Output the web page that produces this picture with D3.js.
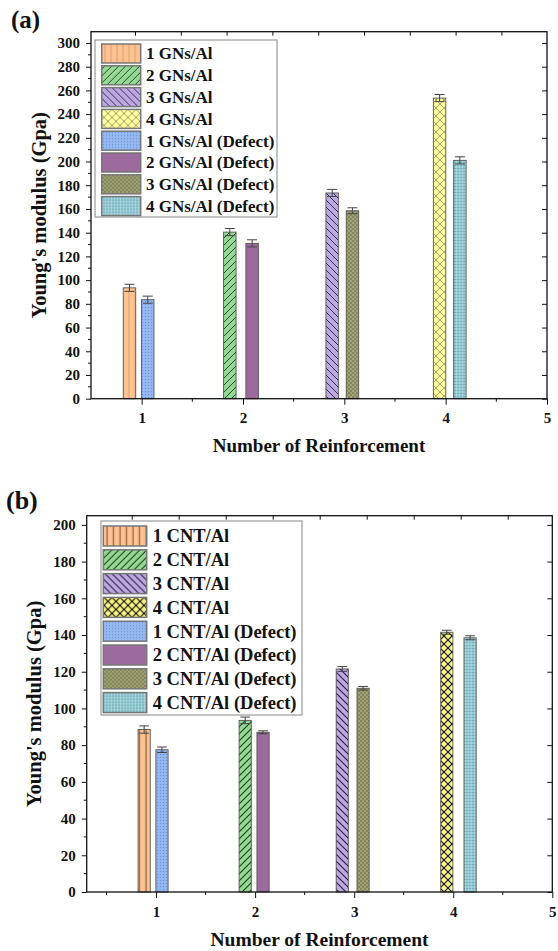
<!DOCTYPE html>
<html>
<head>
<meta charset="utf-8">
<script src="https://cdn.jsdelivr.net/npm/d3@7"></script>
<style>
  html, body { margin: 0; padding: 0; background: #fff; }
  svg { display: block; }
  text { font-family: "Liberation Serif", "Times New Roman", serif; font-weight: bold; fill: #111; }
</style>
</head>
<body>
<svg id="chart" width="558" height="951"></svg>
<script>
// ---- data ----
const categories = [1, 2, 3, 4];
const xTickValues = [1, 2, 3, 4, 5];

// (a) graphene nanosheets in Al
const gnsLabels = ["1 GNs/Al", "2 GNs/Al", "3 GNs/Al", "4 GNs/Al",
  "1 GNs/Al (Defect)", "2 GNs/Al (Defect)", "3 GNs/Al (Defect)", "4 GNs/Al (Defect)"];
const gnsPristine = [93.5, 140.5, 173.5, 253.5];
const gnsDefect = [83.5, 131, 158.5, 201];
const gnsPristineErr = [3, 3, 3, 3];
const gnsDefectErr = [3, 3, 2.5, 3];
const gnsPristineX = [0.88, 1.87, 2.88, 3.94];
const gnsDefectX = [1.06, 2.09, 3.08, 4.14];

// (b) carbon nanotubes in Al
const cntLabels = ["1 CNT/Al", "2 CNT/Al", "3 CNT/Al", "4 CNT/Al",
  "1 CNT/Al (Defect)", "2 CNT/Al (Defect)", "3 CNT/Al (Defect)", "4 CNT/Al (Defect)"];
const cntPristine = [88.5, 93.5, 121.5, 141.5];
const cntDefect = [77.5, 87, 111, 138.5];
const cntPristineErr = [2, 1.8, 1.3, 1.1];
const cntDefectErr = [1.5, 0.8, 1, 1.1];
const cntPristineX = [0.88, 1.9, 2.88, 3.935];
const cntDefectX = [1.06, 2.08, 3.09, 4.17];

const barWidth = 0.123; // in x-axis units

const svg = d3.select("#chart");
const defs = svg.append("defs");

// ---- fill patterns ----
function pattern(id, size, bg, draw) {
  const p = defs.append("pattern").attr("id", id).attr("patternUnits", "userSpaceOnUse")
    .attr("width", size).attr("height", size);
  p.append("rect").attr("width", size).attr("height", size).attr("fill", bg);
  draw(p);
}
function line(p, x1, y1, x2, y2, c, w) {
  p.append("line").attr("x1", x1).attr("y1", y1).attr("x2", x2).attr("y2", y2)
    .attr("stroke", c).attr("stroke-width", w);
}
// orange, vertical lines
pattern("orA", 6, "#fcc292", p => line(p, 3, 0, 3, 6, "#d69868", 0.8));
pattern("orB", 6.5, "#fcc292", p => line(p, 3, 0, 3, 6.5, "#7a4a25", 1));
// green, forward diagonal
pattern("grA", 7, "#93d893", p => { line(p, 0, 7, 7, 0, "#2d4a2d", 1); line(p, -1, 1, 1, -1, "#2d4a2d", 1); line(p, 6, 8, 8, 6, "#2d4a2d", 1); });
pattern("grB", 7, "#93d893", p => { line(p, 0, 7, 7, 0, "#1f3a1f", 1.1); line(p, -1, 1, 1, -1, "#1f3a1f", 1.1); line(p, 6, 8, 8, 6, "#1f3a1f", 1.1); });
// lilac, back diagonal
pattern("liA", 7, "#bea8e2", p => { line(p, 0, 0, 7, 7, "#3c2c55", 1); line(p, -1, 6, 1, 8, "#3c2c55", 1); line(p, 6, -1, 8, 1, "#3c2c55", 1); });
pattern("liB", 7, "#bea8e2", p => { line(p, 0, 0, 7, 7, "#2a1d40", 1.1); line(p, -1, 6, 1, 8, "#2a1d40", 1.1); line(p, 6, -1, 8, 1, "#2a1d40", 1.1); });
// yellow, cross hatch
pattern("yeA", 8, "#fdfb9a", p => { line(p, 0, 0, 8, 8, "#9a9a70", 0.9); line(p, 0, 8, 8, 0, "#9a9a70", 0.9); });
pattern("yeB", 8, "#f6f27a", p => { line(p, 0, 0, 8, 8, "#111", 1.1); line(p, 0, 8, 8, 0, "#111", 1.1);
  p.append("circle").attr("cx", 4).attr("cy", 0).attr("r", 1.6).attr("fill", "#fffca8");
  p.append("circle").attr("cx", 4).attr("cy", 8).attr("r", 1.6).attr("fill", "#fffca8"); });
// blue, fine dots
pattern("bl", 3, "#93b7f0", p => p.append("rect").attr("x", 1).attr("y", 1).attr("width", 1).attr("height", 1).attr("fill", "#6d8fd0"));
// purple, plain
pattern("pu", 4, "#9d6a9d", p => {});
// olive, checker
pattern("ol", 4, "#a3a378", p => { p.append("rect").attr("width", 2).attr("height", 2).attr("fill", "#85855c");
  p.append("rect").attr("x", 2).attr("y", 2).attr("width", 2).attr("height", 2).attr("fill", "#85855c"); });
// teal, fine grid
pattern("te", 3, "#93c9d2", p => { line(p, 0, 0.5, 3, 0.5, "#6fa6b0", 0.8); line(p, 0.5, 0, 0.5, 3, "#b5e0e6", 0.6); });

function panel(cfg) {
  const g = svg.append("g");
  const x = d3.scaleLinear().domain(cfg.xDomain).range([cfg.left, cfg.right]);
  const y = d3.scaleLinear().domain([0, cfg.yMax]).range([cfg.bottom, cfg.top]);
  const yTicks = d3.range(0, cfg.yTickMax + 1, 20);
  const yMinor = d3.range(10, cfg.yTickMax, 20);

  // bars + error bars
  const bars = [];
  categories.forEach((c, i) => {
    bars.push({ x: cfg.pX[i], v: cfg.pV[i], e: cfg.pE[i], fill: cfg.pFill[i] });
    bars.push({ x: cfg.dX[i], v: cfg.dV[i], e: cfg.dE[i], fill: cfg.dFill[i] });
  });
  const bw = x(barWidth) - x(0);
  g.selectAll("rect.bar").data(bars).join("rect").attr("class", "bar")
    .attr("x", d => x(d.x) - bw / 2).attr("width", bw)
    .attr("y", d => y(d.v)).attr("height", d => y(0) - y(d.v))
    .attr("fill", d => `url(#${d.fill})`).attr("stroke", "#555").attr("stroke-width", 0.9);
  const eb = g.selectAll("g.err").data(bars).join("g").attr("class", "err")
    .attr("stroke", "#444").attr("stroke-width", 1);
  eb.append("line").attr("x1", d => x(d.x)).attr("x2", d => x(d.x))
    .attr("y1", d => y(d.v - d.e)).attr("y2", d => y(d.v + d.e));
  eb.append("line").attr("x1", d => x(d.x) - bw * 0.4).attr("x2", d => x(d.x) + bw * 0.4)
    .attr("y1", d => y(d.v + d.e)).attr("y2", d => y(d.v + d.e));
  eb.append("line").attr("x1", d => x(d.x) - bw * 0.4).attr("x2", d => x(d.x) + bw * 0.4)
    .attr("y1", d => y(d.v - d.e)).attr("y2", d => y(d.v - d.e));

  // axes
  const fs = cfg.tickFont;
  const yAxis = g.append("g").attr("transform", `translate(${cfg.left},0)`)
    .call(d3.axisLeft(y).tickValues(yTicks).tickSize(5).tickPadding(6));
  yAxis.append("g").selectAll("line").data(yMinor).join("line")
    .attr("x1", -3).attr("x2", 0).attr("y1", d => y(d)).attr("y2", d => y(d)).attr("stroke", "#111");
  const xAxis = g.append("g").attr("transform", `translate(0,${cfg.bottom})`)
    .call(d3.axisBottom(x).tickValues(xTickValues).tickFormat(d3.format("d")).tickSize(6).tickPadding(8));
  const xMinor = d3.range(0.5, 5, 1).filter(v => v > cfg.xDomain[0]);
  xAxis.append("g").selectAll("line").data(xMinor).join("line")
    .attr("x1", d => x(d)).attr("x2", d => x(d)).attr("y1", 0).attr("y2", 3).attr("stroke", "#111");
  // mirrored right and top ticks
  g.append("g").attr("transform", `translate(${cfg.right},0)`)
    .call(d3.axisRight(y).tickValues(yTicks).tickSize(-5).tickFormat(""));
  const xTop = d3.scaleLinear().domain([0, 1]).range([cfg.topTick0, cfg.topTick0 + cfg.topTickStep]);
  g.append("g").attr("transform", `translate(0,${cfg.top})`)
    .call(d3.axisTop(xTop).tickValues(d3.range(0, 9)).tickSize(-4).tickFormat(""));
  [yAxis, xAxis].forEach(a => a.selectAll("text").style("font-size", fs + "px").attr("fill", "#111"));
  g.selectAll(".domain").remove();
  g.selectAll(".tick line").attr("stroke", "#111").attr("stroke-width", 1);
  g.append("rect").attr("x", cfg.left).attr("y", cfg.top)
    .attr("width", cfg.right - cfg.left).attr("height", cfg.bottom - cfg.top)
    .attr("fill", "none").attr("stroke", "#111").attr("stroke-width", 1.3);

  // titles
  g.append("text").attr("x", (cfg.left + cfg.right) / 2).attr("y", cfg.xTitleY)
    .attr("text-anchor", "middle").style("font-size", cfg.titleFont + "px").text("Number of Reinforcement");
  g.append("text").attr("transform", `translate(${cfg.yTitleX},${(cfg.top + cfg.bottom) / 2}) rotate(-90)`)
    .attr("text-anchor", "middle").style("font-size", cfg.yTitleFont + "px").text("Young's modulus (Gpa)");
  g.append("text").attr("x", cfg.tagX).attr("y", cfg.tagY).style("font-size", cfg.tagFont + "px").text(cfg.tag);

  // legend
  const L = cfg.legend;
  const lg = g.append("g");
  lg.append("rect").attr("x", L.x).attr("y", L.y).attr("width", L.w).attr("height", L.h)
    .attr("fill", "#fff").attr("stroke", "#9a9a9a").attr("stroke-width", 1.2);
  const fills = cfg.pFill.concat(cfg.dFill);
  const items = lg.selectAll("g.item").data(cfg.labels).join("g").attr("class", "item")
    .attr("transform", (d, i) => `translate(0,${L.y + L.pad + i * L.step})`);
  items.append("rect").attr("x", L.sx).attr("width", L.sw).attr("height", L.sh)
    .attr("fill", (d, i) => `url(#${fills[i]})`).attr("stroke", "#777").attr("stroke-width", 1.5);
  items.append("text").attr("x", L.tx).attr("y", L.sh / 2).attr("dy", "0.35em")
    .style("font-size", L.font + "px").text(d => d);
}

panel({
  tag: "(a)", tagX: 11, tagY: 28, tagFont: 25,
  left: 91, right: 547, top: 31.7, bottom: 398.7,
  xDomain: [0.5, 5], yMax: 309.5, yTickMax: 300,
  topTick0: 135, topTickStep: 45.8,
  pX: gnsPristineX, pV: gnsPristine, pE: gnsPristineErr, pFill: ["orA", "grA", "liA", "yeA"],
  dX: gnsDefectX, dV: gnsDefect, dE: gnsDefectErr, dFill: ["bl", "pu", "ol", "te"],
  labels: gnsLabels, tickFont: 15, titleFont: 19, yTitleFont: 20.5, xTitleY: 452, yTitleX: 46,
  legend: { x: 95, y: 40, w: 182, h: 177, pad: 4, step: 21.8, sx: 101.7, sw: 39, sh: 19, tx: 146, font: 17 }
});

panel({
  tag: "(b)", tagX: 6, tagY: 509, tagFont: 26,
  left: 86.7, right: 552.3, top: 515.7, bottom: 892,
  xDomain: [0.3, 5], yMax: 205, yTickMax: 200,
  topTick0: 131.7, topTickStep: 47,
  pX: cntPristineX, pV: cntPristine, pE: cntPristineErr, pFill: ["orB", "grB", "liB", "yeB"],
  dX: cntDefectX, dV: cntDefect, dE: cntDefectErr, dFill: ["bl", "pu", "ol", "te"],
  labels: cntLabels, tickFont: 15, titleFont: 19.5, yTitleFont: 20.5, xTitleY: 946, yTitleX: 41,
  legend: { x: 101, y: 521, w: 201, h: 194, pad: 5, step: 23.8, sx: 103.3, sw: 43.4, sh: 20, tx: 152.7, font: 18.5 }
});
</script>
</body>
</html>
